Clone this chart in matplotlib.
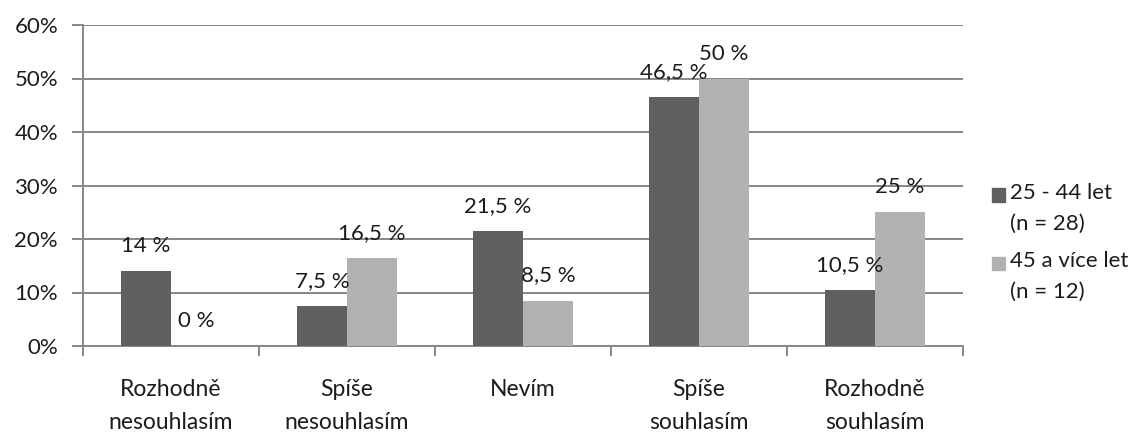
import matplotlib
matplotlib.use("Agg")
import matplotlib.pyplot as plt
from matplotlib.patches import Rectangle
import numpy as np

categories = ["Rozhodně\nnesouhlasím", "Spíše\nnesouhlasím", "Nevím", "Spíše\nsouhlasím", "Rozhodně\nsouhlasím"]
series_names = ["25 - 44 let\n(n = 28)", "45 a více let\n(n = 12)"]
values_25_44 = [14, 7.5, 21.5, 46.5, 10.5]
values_45_plus = [0, 16.5, 8.5, 50, 25]
value_labels_25_44 = ["14 %", "7,5 %", "21,5 %", "46,5 %", "10,5 %"]
value_labels_45_plus = ["0 %", "16,5 %", "8,5 %", "50 %", "25 %"]
y_ticks = [0, 10, 20, 30, 40, 50, 60]

plt.rcParams['font.family'] = ['Lato', 'DejaVu Sans']
TEXT = "#1c1c1c"
GRID = "#878787"
FS = 16
colors = ["#606060", "#b2b2b2"]
W, H = 1141, 434
fig = plt.figure(figsize=(W / 100, H / 100), dpi=100)
ax = fig.add_axes([83 / W, (H - 346) / H, 880 / W, 321 / H])

x = np.arange(len(categories))
bw = 0.284
series = [(values_25_44, value_labels_25_44), (values_45_plus, value_labels_45_plus)]
for k, (vals, labs) in enumerate(series):
    xs = x + (k - 0.5) * bw
    ax.bar(xs, vals, width=bw, color=colors[k], zorder=3)
    for xi, v, lab in zip(xs, vals, labs):
        ax.annotate(lab, (xi, v), xytext=(0, 18), textcoords="offset points",
                    ha="center", va="center", fontsize=FS, color=TEXT, zorder=4)

ax.set_xlim(-0.5, len(categories) - 0.5)
ax.set_ylim(0, 60)
ax.set_yticks(y_ticks)
ax.set_yticklabels([f"{t}%" for t in y_ticks], fontsize=FS, color=TEXT)
ax.yaxis.grid(True, color=GRID, linewidth=1.4, zorder=0)
ax.tick_params(axis="y", direction="out", length=8, width=1.4, color=GRID, pad=10)

ax.set_xticks(x)
ax.set_xticklabels(categories, fontsize=FS + 0.5, color=TEXT, linespacing=1.7)
ax.set_xticks(np.arange(-0.5, len(categories)), minor=True)
ax.tick_params(axis="x", which="major", length=0, pad=24)
ax.tick_params(axis="x", which="minor", direction="out", length=7, width=1.4, color=GRID)

for s in ["top", "right"]:
    ax.spines[s].set_visible(False)
for s in ["left", "bottom"]:
    ax.spines[s].set_color(GRID)
    ax.spines[s].set_linewidth(1.4)

# legend drawn as square swatches with two-line labels
for k, name in enumerate(series_names):
    y0 = 195 + k * 68
    fig.patches.append(Rectangle((992 / W, (H - y0 - 6.5) / H), 13 / W, 13 / H,
                                 transform=fig.transFigure, color=colors[k]))
    fig.text(1010 / W, (H - y0 + 12) / H, name, fontsize=FS, color=TEXT,
             ha="left", va="top", linespacing=1.7)

fig.savefig("out.png", dpi=100)
